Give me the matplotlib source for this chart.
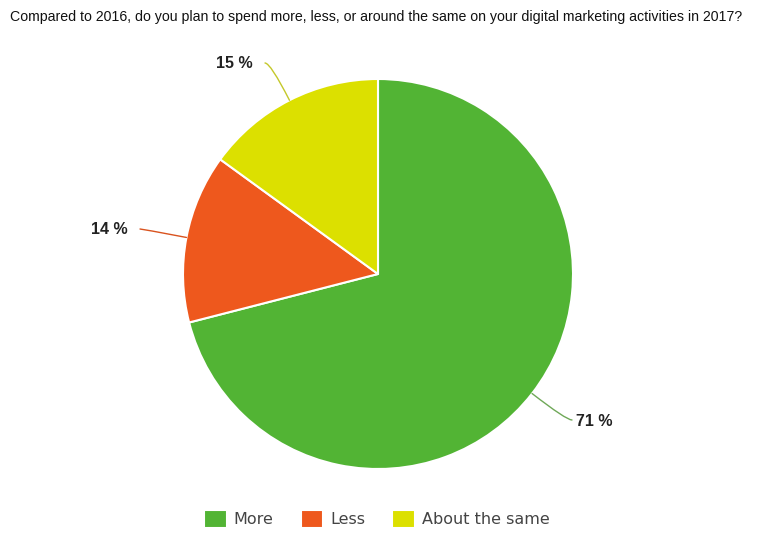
import matplotlib.pyplot as plt
import numpy as np

# Survey answers
answers = ['More', 'Less', 'About the same']
shares = [71, 14, 15]
colors = ['#52b434', '#ee581d', '#dce000']
line_colors = ['#6fa858', '#d9531f', '#c4c82a']

# Where each leader line ends (pixels, y measured upward) and text alignment
label_ends = [(572, 119), (140, 310), (265, 476)]
label_ha = ['left', 'right', 'right']

fig = plt.figure(figsize=(7.6, 5.39), dpi=100)
fig.set_facecolor('white')
ax = fig.add_axes([0, 0, 1, 1])

center = (378, 265)
radius = 195
wedges, _ = ax.pie(shares, colors=colors, startangle=90, counterclock=False,
                   center=center, radius=radius, frame=True,
                   wedgeprops=dict(edgecolor='white', linewidth=1.5))
ax.set_xlim(0, 760)
ax.set_ylim(0, 539)
ax.set_aspect('equal')
ax.axis('off')

# Leader lines and percentage labels
for w, val, end, ha, lc in zip(wedges, shares, label_ends, label_ha, line_colors):
	theta = (w.theta1 + w.theta2) / 2
	edge = (center[0] + radius * np.cos(np.radians(theta)),
	        center[1] + radius * np.sin(np.radians(theta)))
	ax.annotate('', xy=edge, xytext=end,
	            arrowprops=dict(arrowstyle='-', color=lc, lw=1,
	                            shrinkA=0, shrinkB=0,
	                            connectionstyle=f'angle3,angleA=0,angleB={theta}'))
	dx = 4 if ha == 'left' else -12
	ax.text(end[0] + dx, end[1] - 1, f'{val} %', ha=ha, va='center',
	        fontsize=11.5, fontweight='bold', color='#222222',
	        family='Liberation Sans')

# Title
fig.text(10 / 760, 1 - 17 / 539,
         'Compared to 2016, do you plan to spend more, less, or around the same on your digital marketing activities in 2017?',
         ha='left', va='center', fontsize=10.2, color='#111111', family='Liberation Sans')

# Legend
fig.legend(wedges, answers, loc='center', bbox_to_anchor=(377 / 760, 1 - 519 / 539),
           ncol=3, frameon=False, handlelength=1.4, handleheight=1.3,
           handletextpad=0.45, columnspacing=1.7, labelcolor='#444444',
           prop=dict(family='DejaVu Sans', size=11.5))

plt.savefig('out.png', dpi=100, facecolor='white')
